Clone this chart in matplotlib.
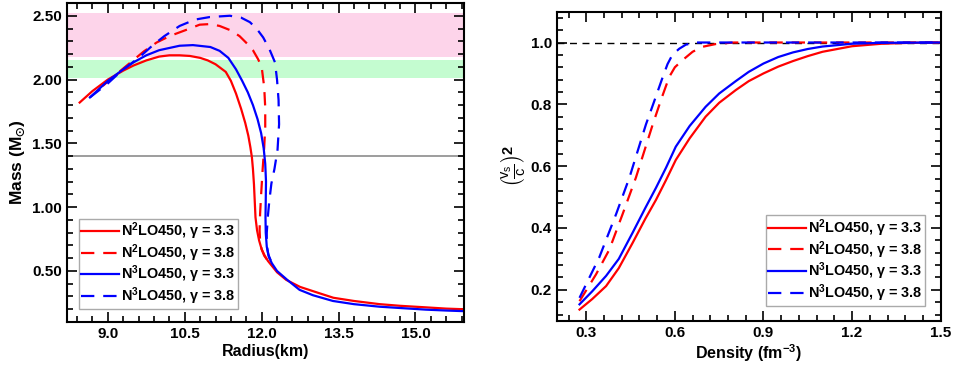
import numpy as np
import matplotlib
matplotlib.use("Agg")
import matplotlib.pyplot as plt
from matplotlib.ticker import MultipleLocator

plt.rcParams['font.family'] = ['Liberation Sans', 'DejaVu Sans']
plt.rcParams['font.weight'] = 'bold'
plt.rcParams['mathtext.fontset'] = 'custom'
plt.rcParams['mathtext.rm'] = 'Liberation Sans:bold'
plt.rcParams['mathtext.bf'] = 'Liberation Sans:bold'
plt.rcParams['mathtext.it'] = 'Liberation Sans:italic:bold'

# ---- Mass-radius data ----
r_n2_33 = [8.45, 8.7, 9.0, 9.3, 9.5, 9.75, 10.0, 10.2, 10.4, 10.6, 10.8, 10.95, 11.1, 11.2, 11.3,
           11.4, 11.5, 11.6, 11.68, 11.74, 11.78, 11.81, 11.83, 11.85, 11.865, 11.88, 11.91, 11.95,
           12.0, 12.06, 12.12, 12.2, 12.3, 12.48, 12.75, 13.13, 13.4, 13.8, 14.3, 14.7, 15.2, 15.6,
           15.95]
m_n2_33 = [1.82, 1.91, 2.00, 2.07, 2.11, 2.15, 2.18, 2.19, 2.19, 2.185, 2.17, 2.15, 2.12, 2.09, 2.06,
           1.99, 1.89, 1.77, 1.66, 1.56, 1.47, 1.39, 1.30, 1.18, 1.05, 0.92, 0.82, 0.74,
           0.67, 0.62, 0.58, 0.54, 0.49, 0.43, 0.375, 0.325, 0.29, 0.265, 0.24, 0.227, 0.215, 0.205,
           0.20]

r_n2_38 = [8.9, 9.1, 9.37, 9.7, 9.95, 10.2, 10.4, 10.6, 10.79, 11.0, 11.18, 11.4, 11.57, 11.72,
           11.83, 11.93, 12.0, 12.05, 12.07, 12.07, 12.05, 12.02, 11.99, 11.97, 11.96, 11.97, 12.0,
           12.05, 12.12]
m_n2_38 = [1.95, 2.02, 2.11, 2.22, 2.29, 2.34, 2.37, 2.40, 2.43, 2.435, 2.42, 2.385, 2.34, 2.28,
           2.23, 2.16, 2.10, 1.94, 1.78, 1.63, 1.47, 1.30, 1.10, 0.95, 0.82, 0.73, 0.67,
           0.62, 0.58]

r_n3_33 = [8.65, 9.0, 9.3, 9.5, 9.75, 10.0, 10.4, 10.66, 11.0, 11.18, 11.35, 11.5, 11.62, 11.73,
           11.83, 11.92, 11.99, 12.04, 12.07, 12.085, 12.08, 12.075, 12.08, 12.1, 12.14, 12.2,
           12.3, 12.5, 12.74, 13.0, 13.39, 13.8, 14.3, 14.69, 15.2, 15.6, 15.95]
m_n3_33 = [1.86, 1.99, 2.08, 2.135, 2.19, 2.23, 2.265, 2.27, 2.255, 2.225, 2.17, 2.08, 1.99, 1.90,
           1.80, 1.69, 1.58, 1.46, 1.34, 1.20, 1.05, 0.92, 0.80, 0.69, 0.61, 0.56,
           0.50, 0.43, 0.352, 0.31, 0.265, 0.24, 0.22, 0.21, 0.197, 0.19, 0.185]

r_n3_38 = [8.65, 9.0, 9.27, 9.6, 9.88, 10.1, 10.4, 10.7, 10.99, 11.38, 11.6, 11.77, 11.9, 12.03,
           12.15, 12.26, 12.3, 12.33, 12.34, 12.31, 12.25, 12.19, 12.15, 12.12, 12.1, 12.1, 12.13,
           12.18]
m_n3_38 = [1.86, 1.97, 2.07, 2.17, 2.27, 2.34, 2.42, 2.47, 2.49, 2.50, 2.485, 2.45, 2.40, 2.33,
           2.24, 2.135, 2.0, 1.84, 1.65, 1.45, 1.30, 1.185, 1.05, 0.924, 0.80, 0.70, 0.63,
           0.58]

# ---- Speed of sound data ----
d_n2_33 = [0.277, 0.32, 0.367, 0.41, 0.457, 0.5, 0.536, 0.57, 0.603, 0.65, 0.704, 0.75, 0.806,
           0.85, 0.9, 0.95, 1.0, 1.05, 1.1, 1.2, 1.3, 1.4, 1.5]
c_n2_33 = [0.136, 0.17, 0.212, 0.27, 0.352, 0.43, 0.491, 0.555, 0.620, 0.69, 0.760, 0.805, 0.846,
           0.875, 0.90, 0.922, 0.94, 0.956, 0.97, 0.988, 0.996, 0.999, 1.0]

d_n3_33 = [0.277, 0.32, 0.367, 0.41, 0.457, 0.5, 0.536, 0.57, 0.603, 0.65, 0.704, 0.75, 0.806,
           0.85, 0.9, 0.95, 1.0, 1.05, 1.1, 1.2, 1.3, 1.5]
c_n3_33 = [0.153, 0.195, 0.245, 0.30, 0.385, 0.465, 0.53, 0.595, 0.663, 0.73, 0.792, 0.835, 0.875,
           0.905, 0.932, 0.953, 0.968, 0.979, 0.987, 0.996, 0.999, 1.0]

d_n2_38 = [0.277, 0.333, 0.378, 0.423, 0.468, 0.525, 0.555, 0.581, 0.60, 0.626, 0.66, 0.693,
           0.738, 0.8, 1.5]
c_n2_38 = [0.163, 0.25, 0.33, 0.445, 0.563, 0.735, 0.82, 0.889, 0.92, 0.943, 0.97, 0.986,
           0.995, 1.0, 1.0]

d_n3_38 = [0.277, 0.344, 0.401, 0.446, 0.502, 0.53, 0.558, 0.575, 0.592, 0.615, 0.637, 0.671, 1.5]
c_n3_38 = [0.174, 0.305, 0.445, 0.563, 0.735, 0.81, 0.886, 0.93, 0.961, 0.98, 0.993, 1.0, 1.0]

labels = [r'N$^{\mathbf{2}}$LO450, γ = 3.3', r'N$^{\mathbf{2}}$LO450, γ = 3.8',
          r'N$^{\mathbf{3}}$LO450, γ = 3.3', r'N$^{\mathbf{3}}$LO450, γ = 3.8']

fig = plt.figure(figsize=(9.55, 3.74), dpi=100)
ax1 = fig.add_axes([0.070, 0.139, 0.416, 0.853])
ax2 = fig.add_axes([0.583, 0.1425, 0.402, 0.8265])

lw = 1.6
dash = (0, (6, 4))

def style(ax):
    ax.tick_params(which='both', direction='in', top=True, right=True, labelsize=11, width=1.2)
    ax.tick_params(which='major', length=7)
    ax.tick_params(which='minor', length=4)
    for s in ax.spines.values():
        s.set_linewidth(1.5)
    for t in ax.get_xticklabels() + ax.get_yticklabels():
        t.set_fontweight('bold')

def legend(ax, loc, anchor):
    leg = ax.legend(loc=loc, bbox_to_anchor=anchor, fontsize=10.4, handlelength=2.6,
                    handletextpad=0.15, borderpad=0.15, labelspacing=0.0, borderaxespad=0,
                    fancybox=False, framealpha=1, edgecolor='#aaaaaa')
    leg.get_frame().set_linewidth(1.0)
    for t in leg.get_texts():
        t.set_fontweight('bold')
    return leg

# left panel
ax1.axhspan(2.18, 2.52, color='#fdd4ea', lw=0, zorder=0)
ax1.axhspan(2.01, 2.15, color='#c4fcd0', lw=0, zorder=0)
ax1.axhline(1.4, color='#8c8c8c', lw=1.2, zorder=1)
ax1.plot(r_n2_33, m_n2_33, color='red', lw=lw, label=labels[0])
ax1.plot(r_n2_38, m_n2_38, color='red', lw=lw, ls=dash, label=labels[1])
ax1.plot(r_n3_33, m_n3_33, color='blue', lw=lw, label=labels[2])
ax1.plot(r_n3_38, m_n3_38, color='blue', lw=lw, ls=dash, label=labels[3])
ax1.set_xlim(8.2, 15.95)
ax1.set_ylim(0.1, 2.6)
ax1.set_xticks([9.0, 10.5, 12.0, 13.5, 15.0])
ax1.set_xticklabels(['9.0', '10.5', '12.0', '13.5', '15.0'])
ax1.xaxis.set_minor_locator(MultipleLocator(0.3))
ax1.set_yticks([0.5, 1.0, 1.5, 2.0, 2.5])
ax1.set_yticklabels(['0.50', '1.00', '1.50', '2.00', '2.50'])
ax1.yaxis.set_minor_locator(MultipleLocator(0.1))
ax1.set_xlabel('Radius(km)', fontsize=11.5, fontweight='bold', labelpad=2)
ax1.set_ylabel(r'Mass ($\mathregular{M_{\odot}}$)', fontsize=12.5, fontweight='bold', labelpad=3)
style(ax1)
legend(ax1, 'lower left', (0.031, 0.04))

# right panel
ax2.axhline(1.0, color='black', lw=1.0, ls=(0, (5, 4)), zorder=1)
ax2.plot(d_n2_33, c_n2_33, color='red', lw=lw, label=labels[0])
ax2.plot(d_n2_38, c_n2_38, color='red', lw=lw, ls=dash, label=labels[1])
ax2.plot(d_n3_33, c_n3_33, color='blue', lw=lw, label=labels[2])
ax2.plot(d_n3_38, c_n3_38, color='blue', lw=lw, ls=dash, label=labels[3])
ax2.set_xlim(0.2, 1.5)
ax2.set_ylim(0.1, 1.1)
ax2.set_xticks([0.3, 0.6, 0.9, 1.2, 1.5])
ax2.xaxis.set_minor_locator(MultipleLocator(0.06))
ax2.set_yticks([0.2, 0.4, 0.6, 0.8, 1.0])
ax2.yaxis.set_minor_locator(MultipleLocator(0.04))
ax2.set_xlabel(r'Density (fm$^{\mathbf{-3}}$)', fontsize=11.5, fontweight='bold', labelpad=2)
ax2.set_ylabel(r'$\left(\frac{\mathregular{v_s}}{\mathregular{c}}\right)^{2}$', fontsize=15,
               labelpad=2)
style(ax2)
legend(ax2, 'lower right', (0.958, 0.048))

fig.savefig('out.png', dpi=100)
